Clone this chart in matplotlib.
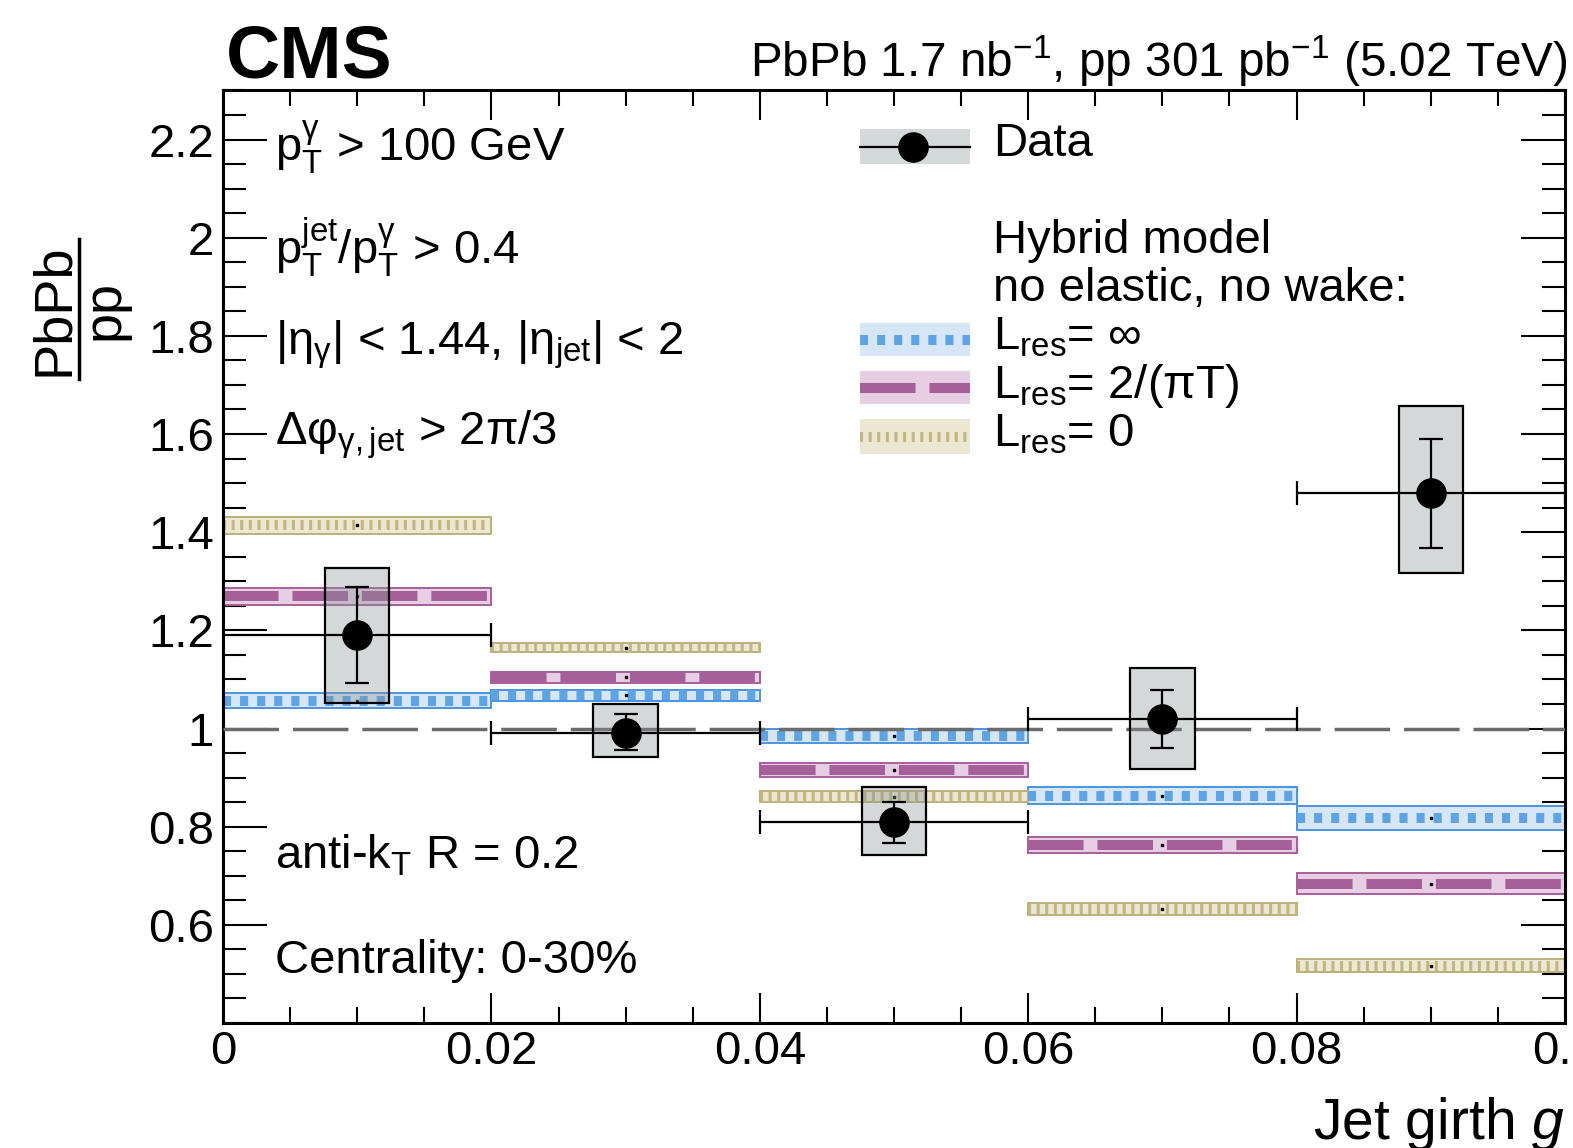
import numpy as np
import matplotlib
matplotlib.use('Agg')
import matplotlib.pyplot as plt
from matplotlib.patches import Rectangle
from matplotlib.lines import Line2D
from matplotlib.ticker import MultipleLocator

plt.rcParams['font.family'] = ['Liberation Sans', 'DejaVu Sans']
plt.rcParams['mathtext.fontset'] = 'custom'
plt.rcParams['mathtext.rm'] = 'Liberation Sans'
plt.rcParams['mathtext.it'] = 'Liberation Sans:italic'
plt.rcParams['mathtext.bf'] = 'Liberation Sans:bold'
plt.rcParams['mathtext.default'] = 'regular'
plt.rcParams['lines.scale_dashes'] = False

# binning in jet girth g
bin_lo = [0.0, 0.02, 0.04, 0.06, 0.08]
bin_hi = [0.02, 0.04, 0.06, 0.08, 0.10]
g_center = [0.01, 0.03, 0.05, 0.07, 0.09]

# data: PbPb/pp ratio
ratio = [1.190, 0.991, 0.809, 1.020, 1.479]
stat_up = [0.098, 0.039, 0.042, 0.059, 0.111]
stat_dn = [0.097, 0.035, 0.042, 0.059, 0.111]
syst_up = [0.137, 0.059, 0.071, 0.104, 0.178]
syst_dn = [0.138, 0.049, 0.066, 0.102, 0.162]

# hybrid model, no elastic, no wake
lres_inf = [1.057, 1.068, 0.985, 0.863, 0.818]
lres_inf_err = [0.016, 0.011, 0.014, 0.017, 0.025]
lres_2pt = [1.269, 1.104, 0.915, 0.762, 0.684]
lres_2pt_err = [0.018, 0.012, 0.014, 0.016, 0.021]
lres_0 = [1.414, 1.165, 0.861, 0.633, 0.517]
lres_0_err = [0.017, 0.010, 0.011, 0.012, 0.014]

xticks = [0.0, 0.02, 0.04, 0.06, 0.08, 0.10]
xtick_labels = ['0', '0.02', '0.04', '0.06', '0.08', '0.1']
yticks = [0.6, 0.8, 1.0, 1.2, 1.4, 1.6, 1.8, 2.0, 2.2]
ytick_labels = ['0.6', '0.8', '1', '1.2', '1.4', '1.6', '1.8', '2', '2.2']

# model styles: fill, edge, dash colour, dash pattern
models = [
    (lres_inf, lres_inf_err, '#d6e6f7', '#4a94de', '#5ea3e3', (0, (5.8, 6.5))),
    (lres_2pt, lres_2pt_err, '#e6cfe3', '#a85e9e', '#a5609a', (0, (40, 10))),
    (lres_0, lres_0_err, '#ebe7d3', '#bcb07a', '#c2b680', (0, (2.2, 4.0))),
]

fig = plt.figure(figsize=(15.73, 11.48), dpi=100)
ax = fig.add_axes([0.1418, 0.1089, 0.8531, 0.8123])

width = np.subtract(bin_hi, bin_lo)
for val, err, fill, edge, dcol, dash in models:
    val = np.array(val)
    err = np.array(err)
    ax.bar(g_center, 2 * err, bottom=val - err, width=width, facecolor=fill,
           edgecolor=edge, linewidth=1.4, zorder=2)
    ax.hlines(val, bin_lo, bin_hi, colors=dcol, linewidth=7.2,
              linestyles=[dash], zorder=2.5)
    ax.plot(g_center, val, 's', ms=1.6, color='k', zorder=2.6)

ax.axhline(1.0, color='#6b6b6b', lw=2.5, ls=(0, (40, 10)), zorder=3)

# systematic boxes
ax.bar(g_center, np.add(syst_up, syst_dn), bottom=np.subtract(ratio, syst_dn),
       width=0.0048, facecolor=(0.537, 0.58, 0.58, 0.36), edgecolor='k',
       linewidth=1.6, zorder=5)
ax.errorbar(g_center, ratio, xerr=width / 2, yerr=[stat_dn, stat_up], fmt='o',
            color='k', ms=21, elinewidth=1.6, capsize=8.6, capthick=1.6, zorder=6)

ax.set_xlim(0, 0.1)
ax.set_ylim(0.4, 2.3)
ax.set_xticks(xticks)
ax.set_xticklabels(xtick_labels)
ax.set_yticks(yticks)
ax.set_yticklabels(ytick_labels)
ax.xaxis.set_minor_locator(MultipleLocator(0.005))
ax.yaxis.set_minor_locator(MultipleLocator(0.05))
ax.tick_params(which='both', direction='in', top=True, right=True, width=1.5,
               labelsize=34)
ax.tick_params(axis='x', which='major', length=21.6, pad=5)
ax.tick_params(axis='x', which='minor', length=11.5)
ax.tick_params(axis='y', which='major', length=31.7, pad=6.5)
ax.tick_params(axis='y', which='minor', length=16.6)
for s in ax.spines.values():
    s.set_linewidth(2.2)


def fx(px):
    return px / 1568


def fy(py):
    return 1 - py / 1144


# header
fig.text(fx(225), fy(77), 'CMS', fontsize=54, fontweight='bold', va='baseline')
fig.text(fx(1562), fy(77), r'PbPb 1.7 nb$^{-1}$, pp 301 pb$^{-1}$ (5.02 TeV)',
         ha='right', va='baseline', fontsize=34.3)

# axis titles
fig.text(fx(54), fy(309), 'PbPb', rotation=90, ha='center', va='center', fontsize=39)
fig.text(fx(104), fy(309), 'pp', rotation=90, ha='center', va='center', fontsize=39)
fig.add_artist(Line2D([fx(79), fx(79)], [fy(238), fy(378)], color='k', lw=2.5,
                      transform=fig.transFigure))
fig.text(0.9949, fy(1135), r'Jet girth $\mathit{g}$', ha='right', va='baseline',
         fontsize=41)

# selection labels
labels = [
    (160, r'$p_{T}^{γ}$ > 100 GeV'),
    (263, r'$p_{T}^{jet}$/$p_{T}^{γ}$ > 0.4'),
    (353, r'|$η_{γ}$| < 1.44, |$η_{jet}$| < 2'),
    (443, r'Δ$φ_{γ,jet}$ > 2π/3'),
    (865, r'anti-$k_{T}$ R = 0.2'),
    (970, 'Centrality: 0-30%'),
]
for py, t in labels:
    fig.text(fx(274), fy(py), t, fontsize=34, va='baseline')

# legend
fig.add_artist(Rectangle((fx(857), fy(163)), fx(967) - fx(857), fy(129) - fy(163),
                         facecolor='#d3d9d9', edgecolor='none', transform=fig.transFigure))
fig.add_artist(Line2D([fx(857), fx(967)], [fy(146), fy(146)], color='k', lw=1.6,
                      transform=fig.transFigure))
fig.add_artist(Line2D([fx(910)], [fy(146)], marker='o', ms=21, color='k',
                      transform=fig.transFigure))
fig.text(fx(990), fy(155), 'Data', fontsize=34, va='baseline')
fig.text(fx(990), fy(252), 'Hybrid model', fontsize=34, va='baseline')
fig.text(fx(990), fy(300), 'no elastic, no wake:', fontsize=34, va='baseline')

leg_rows = [(322, 355, 348, r'$L_{res}$= ∞'),
            (370, 403, 397, r'$L_{res}$= 2/(πT)'),
            (418, 452, 445, r'$L_{res}$= 0')]
for (y0, y1, yb, t), (val, err, fill, edge, dcol, dash) in zip(leg_rows, models):
    fig.add_artist(Rectangle((fx(857), fy(y1)), fx(967) - fx(857), fy(y0) - fy(y1),
                             facecolor=fill, edgecolor='none', transform=fig.transFigure))
    fig.add_artist(Line2D([fx(857), fx(967)], [fy((y0 + y1) / 2)] * 2, color=dcol,
                          lw=7.2, ls=dash, transform=fig.transFigure))
    fig.text(fx(990), fy(yb), t, fontsize=34, va='baseline')

fig.savefig('out.png', dpi=100)
